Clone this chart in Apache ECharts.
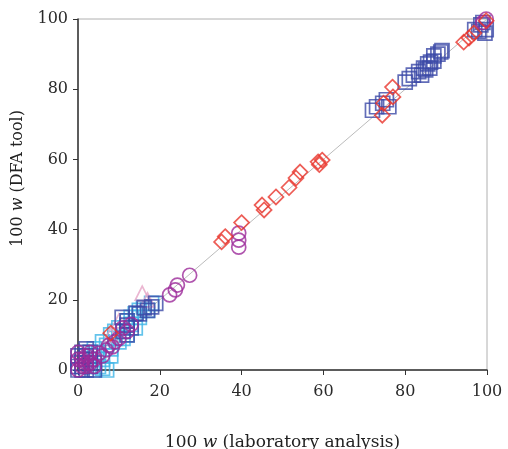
<!DOCTYPE html>
<html>
<head>
<meta charset="utf-8">
<script src="https://cdn.jsdelivr.net/npm/echarts@6/dist/echarts.min.js"></script>
<style>
  html, body { margin: 0; padding: 0; background: #fff; }
  #chart { width: 508px; height: 449px; }
</style>
</head>
<body>
<div id="chart"></div>
<script>
// Axis ticks
const xTicks = [0, 20, 40, 60, 80, 100];
const yTicks = [0, 20, 40, 60, 80, 100];

// [laboratory, DFA tool] pairs, 100 w
const lightBlueSquares = [
  [3, 4], [4, 6], [5, 5], [6, 8], [7, 7], [8, 10], [9, 9], [10, 12], [11, 11],
  [12, 14], [13, 13], [14, 16], [15, 15], [16, 18], [17, 17], [18, 19],
  [6, 3], [8, 6], [10, 8], [5, 1], [7, 0], [4, 0], [12, 10], [14, 12], [9, 11],
  [11, 9], [13, 15], [15, 17], [6, 0.5], [8, 4]
];
const darkBlueSquares = [
  [0, 0], [1, 1], [2, 0], [0, 2], [1, 3], [2, 2], [3, 1], [0, 4], [1, 5], [2, 4],
  [3, 3], [4, 2], [4, 0], [1, 0], [0, 1], [3, 5], [2, 6],
  [10.8, 15], [12, 12.8], [12, 10], [12, 14], [13, 12], [14.2, 16.2], [15, 16],
  [16.2, 17.7], [17, 17], [18, 18], [19, 19], [11, 11],
  [72, 74], [73, 75], [74.5, 76], [75.4, 77], [76, 75], [80, 82], [81, 83],
  [82, 84], [83.3, 85], [84.5, 86], [85.5, 87.2], [86.2, 87.7], [87, 89.5],
  [88, 90], [88.7, 90.6], [86, 86], [85, 85.5], [84, 84], [87, 88], [89, 91],
  [98.5, 98.3], [99.5, 96], [99.8, 97], [98, 96.5], [97, 97], [99, 99]
];
const purpleCircles = [
  [0, 0], [1, 1], [2, 2], [3, 2], [4, 3], [5.2, 4.8], [6.9, 5.7], [8.4, 6.6],
  [9, 8], [10, 9], [1, 3], [2, 4], [0, 5], [3, 5], [4, 1], [0, 3], [2, 1],
  [12, 11], [11, 12], [13, 13], [6, 4], [7.5, 7],
  [22.4, 21.4], [23.8, 22.8], [24.3, 24.2], [27.3, 27],
  [39.3, 39], [39.3, 37], [39.3, 35],
  [99, 99], [99.8, 100]
];
const redDiamonds = [
  [8, 10.5],
  [35.1, 36.5], [36, 38], [40, 42], [45, 47], [45.5, 45.6], [48.4, 49.3],
  [51.6, 52], [53.3, 54.7], [54.3, 56.4], [58.7, 59.3], [59.7, 59.8], [59, 58.5],
  [74.4, 72.6], [74.7, 76], [77, 77.8], [76.9, 80.6],
  [94.3, 93.4], [95.6, 94.6], [96.8, 96], [99.8, 99.5]
];
const pinkTriangles = [
  [15.7, 21.9], [10, 14], [8, 10], [17, 20]
];

const serif = '"DejaVu Serif", "Liberation Serif", serif';

function hollow(name, data, symbol, color, size) {
  return {
    name: name,
    type: 'scatter',
    data: data,
    symbol: symbol,
    symbolSize: size,
    itemStyle: { color: 'rgba(0,0,0,0)', borderColor: color, borderWidth: 1.7 },
    z: 3
  };
}

const chart = echarts.init(document.getElementById('chart'));
chart.setOption({
  animation: false,
  backgroundColor: '#fff',
  grid: {
    left: 78, right: 21, top: 19, bottom: 79,
    outerBoundsMode: 'none',
    containLabel: false,
    show: true, borderColor: '#b0b0b0', borderWidth: 1
  },
  xAxis: {
    type: 'value', min: 0, max: 100, interval: 20,
    axisLine: { show: true, lineStyle: { color: '#333', width: 1.5 } },
    axisTick: { show: true, length: 5, lineStyle: { color: '#333' } },
    splitLine: { show: false },
    axisLabel: {
      color: '#2a2a2a', fontFamily: serif, fontSize: 16, margin: 14,
      formatter: v => xTicks.includes(v) ? String(v) : ''
    },
    name: '100 {i|w} (laboratory analysis)',
    nameLocation: 'middle', nameGap: 64,
    nameTextStyle: {
      color: '#222', fontFamily: serif, fontSize: 17,
      rich: { i: { fontStyle: 'italic', fontFamily: serif, fontSize: 17, color: '#222' } }
    }
  },
  yAxis: {
    type: 'value', min: 0, max: 100, interval: 20,
    axisLine: { show: true, lineStyle: { color: '#333', width: 1.5 } },
    axisTick: { show: true, length: 5, lineStyle: { color: '#333' } },
    splitLine: { show: false },
    axisLabel: {
      color: '#2a2a2a', fontFamily: serif, fontSize: 16, margin: 10,
      formatter: v => yTicks.includes(v) ? String(v) : ''
    },
    name: '100 {i|w} (DFA tool)',
    nameLocation: 'middle', nameGap: 52,
    nameTextStyle: {
      color: '#222', fontFamily: serif, fontSize: 16,
      padding: [0, 0, 0, 32],
      rich: { i: { fontStyle: 'italic', fontFamily: serif, fontSize: 16, color: '#222' } }
    }
  },
  series: [
    {
      type: 'line',
      data: [[0, 0], [100, 100]],
      symbol: 'none',
      lineStyle: { color: '#bbb', width: 1 },
      z: 1
    },
    hollow('light blue', lightBlueSquares, 'rect', '#3cb4e6', 14),
    hollow('pink', pinkTriangles, 'triangle', '#e6a4c6', 14),
    hollow('dark blue', darkBlueSquares, 'rect', '#3b48a6', 14),
    hollow('purple', purpleCircles, 'circle', '#9c2a9a', 14),
    hollow('red', redDiamonds, 'diamond', '#e8342c', 15)
  ]
});
</script>
</body>
</html>
